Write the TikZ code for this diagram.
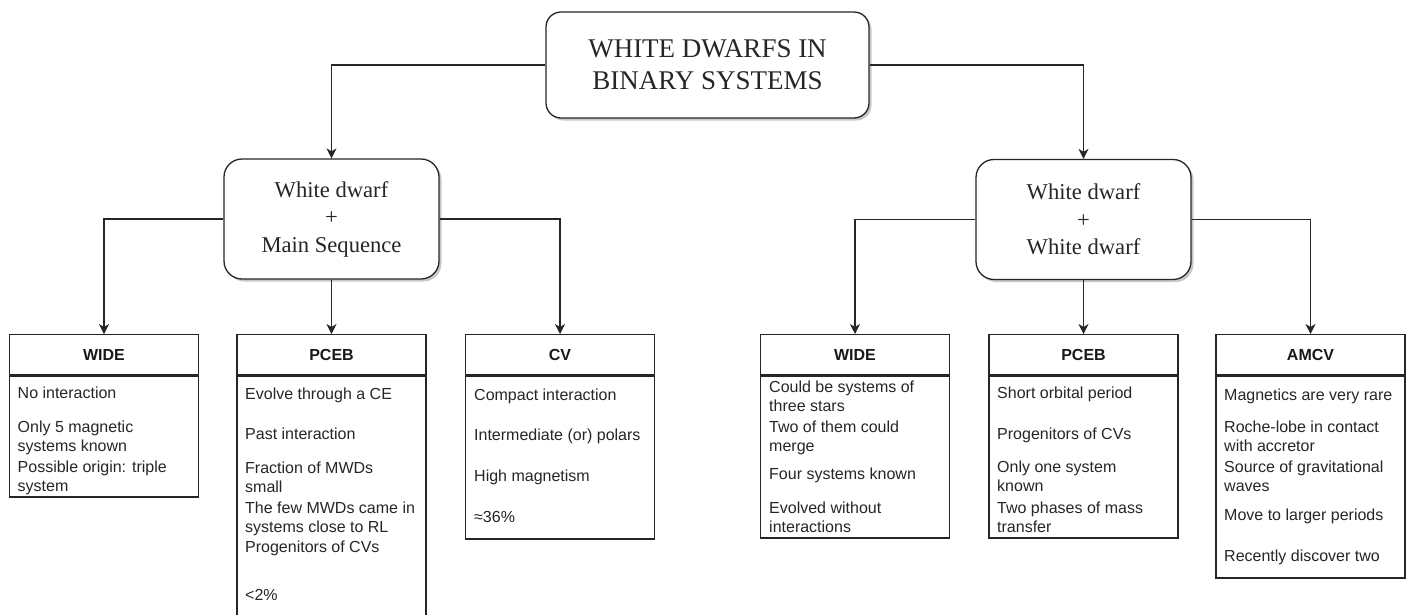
\documentclass[tikz,border=0pt]{standalone}
\usepackage{fontspec}
\setmainfont{Liberation Serif}
\setsansfont{Liberation Sans}
\usetikzlibrary{arrows.meta,shadows}

\tikzset{
  line/.style={draw=black!85, line width=1.3pt},
  arr/.style={line, -{Stealth[length=10pt,width=10pt,inset=3pt]}},
  roundbox/.style={line, fill=white, align=center, inner sep=0pt,
    text=black!85,
    drop shadow={shadow xshift=2.5pt, shadow yshift=-2.5pt, opacity=0.3, fill=black!70}},
  titlebox/.style={roundbox, rounded corners=15pt, minimum width=323pt, minimum height=106pt,
    font=\fontsize{27}{32}\selectfont},
  pairbox/.style={roundbox, rounded corners=18pt, minimum width=215pt, minimum height=120pt,
    font=\fontsize{22.6}{27.5}\selectfont},
  headbox/.style={line, fill=white, anchor=north, inner sep=0pt, minimum width=189pt,
    minimum height=40pt, text=black!90, font=\sffamily\bfseries\fontsize{16}{19}\selectfont},
  bodybox/.style={line, fill=white, anchor=north, inner sep=0pt, minimum width=189pt},
  % base anchor of a two-line item sits on its last line
  item/.style={anchor=base west, inner sep=0pt, align=left, text=black!85,
    font=\sffamily\fontsize{16}{19}\selectfont},
}

\begin{document}
\begin{tikzpicture}[x=1pt,y=-1pt]
\clip (0,0) rectangle (1412,614);
\fill[white] (0,0) rectangle (1412,614);

% root and the two kinds of pairs
\node[titlebox] (root) at (707.5,65) {WHITE DWARFS IN\\BINARY SYSTEMS};
\node[pairbox] (wdms) at (331.5,219) {White dwarf\\+\\Main Sequence};
\node[pairbox] (wdwd) at (1083.5,219.5) {White dwarf\\+\\White dwarf};

% category boxes: header on top of a body
\node[headbox] (wideL) at (104,334) {WIDE};
\node[bodybox, minimum height=121pt] (wideLb) at (wideL.south) {};
\node[headbox] (pcebL) at (331.5,334) {PCEB};
\node[bodybox, minimum height=300pt] (pcebLb) at (pcebL.south) {};
\node[headbox] (cv) at (560,334) {CV};
\node[bodybox, minimum height=163pt] (cvb) at (cv.south) {};
\node[headbox] (wideR) at (855,334) {WIDE};
\node[bodybox, minimum height=162pt] (wideRb) at (wideR.south) {};
\node[headbox] (pcebR) at (1083.5,334) {PCEB};
\node[bodybox, minimum height=162pt] (pcebRb) at (pcebR.south) {};
\node[headbox] (amcv) at (1310.5,334) {AMCV};
\node[bodybox, minimum height=202pt] (amcvb) at (amcv.south) {};

% connectors
\draw[arr] (root.west) -| (wdms.north);
\draw[arr] (root.east) -| (wdwd.north);
\draw[arr] (wdms.west) -| (wideL.north);
\draw[arr] (wdms.south) -- (pcebL.north);
\draw[arr] (wdms.east) -| (cv.north);
\draw[arr] (wdwd.west) -| (wideR.north);
\draw[arr] (wdwd.south) -- (pcebR.north);
\draw[arr] (wdwd.east) -| (amcv.north);

% WIDE (WD + MS)
\node[item] (wl1) at (17.5,398) {No interaction};
\node[item] (wl2) at (17.5,451) {Only 5 magnetic\\systems known};
\node[item] (wl3) at (17.5,491) {Possible origin: triple\\system};

% PCEB (WD + MS)
\node[item] (pl1) at (245,399) {Evolve through a CE};
\node[item] (pl2) at (245,439) {Past interaction};
\node[item] (pl3) at (245,492) {Fraction of MWDs\\small};
\node[item] (pl4) at (245,532) {The few MWDs came in\\systems close to RL};
\node[item] (pl5) at (245,552) {Progenitors of CVs};
\node[item] (pl6) at (245,600) {<2\%};

% CV
\node[item] (cv1) at (474,400) {Compact interaction};
\node[item] (cv2) at (474,440) {Intermediate (or) polars};
\node[item] (cv3) at (474,481) {High magnetism};
\node[item] (cv4) at (474,522) {≈36\%};

% WIDE (WD + WD)
\node[item] (wr1) at (769,411) {Could be systems of\\three stars};
\node[item] (wr2) at (769,451) {Two of them could\\merge};
\node[item] (wr3) at (769,479) {Four systems known};
\node[item] (wr4) at (769,532) {Evolved without\\interactions};

% PCEB (WD + WD)
\node[item] (pr1) at (997,398) {Short orbital period};
\node[item] (pr2) at (997,439) {Progenitors of CVs};
\node[item] (pr3) at (997,491) {Only one system\\known};
\node[item] (pr4) at (997,532) {Two phases of mass\\transfer};

% AMCV
\node[item] (am1) at (1224,400) {Magnetics are very rare};
\node[item] (am2) at (1224,451) {Roche-lobe in contact\\with accretor};
\node[item] (am3) at (1224,491) {Source of gravitational\\waves};
\node[item] (am4) at (1224,520) {Move to larger periods};
\node[item] (am5) at (1224,561) {Recently discover two};
\end{tikzpicture}
\end{document}
